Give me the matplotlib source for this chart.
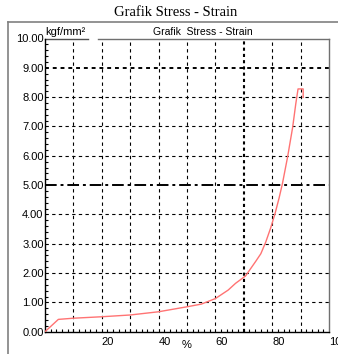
import matplotlib
matplotlib.use("Agg")
import matplotlib.pyplot as plt
from matplotlib.ticker import MultipleLocator
import numpy as np

# Data
strain = [0, 4.7, 10, 20, 30, 40, 50, 55, 60, 64.5, 67.1, 70.6, 74.2, 76.0,
          77.7, 79.5, 81.0, 82.4, 83.6, 85.4, 87.2, 88.3, 89.1, 90.9, 90.9]
stress = [0, 0.42, 0.46, 0.51, 0.57, 0.68, 0.85, 0.94, 1.13, 1.42, 1.65, 1.90,
          2.40, 2.66, 3.05, 3.55, 4.03, 4.55, 5.05, 5.95, 6.97, 7.77, 8.28, 8.28, 7.99]
y_ticks = [0, 1, 2, 3, 4, 5, 6, 7, 8, 9, 10]
y_labels = [f"{v:.2f}" for v in y_ticks]
x_ticks = [20, 40, 60, 80, 100]
x_labels = ["20", "40", "60", "80", "100"]
x_grid = [10, 20, 30, 40, 50, 60, 70, 80, 90]
y_grid = [1, 2, 3, 4, 5, 6, 7, 8, 9]

W, H = 338, 354
fig = plt.figure(figsize=(W / 100, H / 100), dpi=100)
fig.patch.set_facecolor("white")

# outer frame lines
fig.add_artist(plt.Line2D([8 / W, 1], [1 - 22 / H, 1 - 22 / H], color="#808080", lw=1.2))
fig.add_artist(plt.Line2D([8 / W, 8 / W], [0, 1 - 22 / H], color="#808080", lw=1.2))

fig.text(176 / W, 1 - 12 / H, "Grafik Stress - Strain", family="Liberation Serif",
         fontsize=10.5, ha="center", va="center")

ax = fig.add_axes([45 / W, (H - 331.7) / H, (329 - 45) / W, (331.7 - 38.5) / H])
ax.set_xlim(0, 100)
ax.set_ylim(0, 10)

sans = "Liberation Sans"
# gridlines
for xv in x_grid:
    if xv == 70:
        ax.axvline(xv, color="black", lw=1.5, ls=(0, (1.5, 1.5)), zorder=1)
    else:
        ax.axvline(xv, color="black", lw=0.8, ls=(0, (3, 3)), zorder=1)
for yv in y_grid:
    if yv == 5:
        ax.axhline(yv, color="black", lw=1.4, ls=(0, (6, 2, 1.5, 2)), zorder=1)
    elif yv == 9:
        ax.axhline(yv, color="black", lw=1.4, ls=(0, (2, 2)), zorder=1)
    else:
        ax.axhline(yv, color="black", lw=0.8, ls=(0, (3, 3)), zorder=1)

ax.plot(strain, stress, color="#ff7373", lw=1.0, zorder=3)

ax.set_yticks(y_ticks)
ax.set_yticklabels(y_labels, family=sans, fontsize=8)
ax.yaxis.set_minor_locator(MultipleLocator(0.2))
ax.set_xticks(x_ticks)
ax.set_xticklabels(x_labels, family=sans, fontsize=8, ha="left")
ax.xaxis.set_minor_locator(MultipleLocator(2))
ax.tick_params(axis="both", which="major", direction="in", length=0, pad=1)
ax.tick_params(axis="x", which="major", pad=4)
ax.tick_params(axis="both", which="minor", direction="in", length=2, width=0.8)

ax.spines["top"].set_visible(False)
ax.spines["right"].set_color("#707070")
ax.spines["left"].set_color("black")
ax.spines["bottom"].set_color("black")
for s in ax.spines.values():
    s.set_linewidth(1.0)
ax.plot([0, 0.152], [1, 1], transform=ax.transAxes, color="#505050", lw=1.0, clip_on=False)
ax.plot([0.187, 1], [1, 1], transform=ax.transAxes, color="#707070", lw=1.0, clip_on=False)

ax.text(0.0, 1.005, "kgf/mm²", transform=ax.transAxes, family=sans, fontsize=8,
        ha="left", va="bottom")
ax.text(0.555, 1.005, "Grafik  Stress - Strain", transform=ax.transAxes, family=sans,
        fontsize=7.5, ha="center", va="bottom")
ax.text(0.5, -0.045, "%", transform=ax.transAxes, family=sans, fontsize=8,
        ha="center", va="center")

fig.savefig("out.png", dpi=100, facecolor="white")
